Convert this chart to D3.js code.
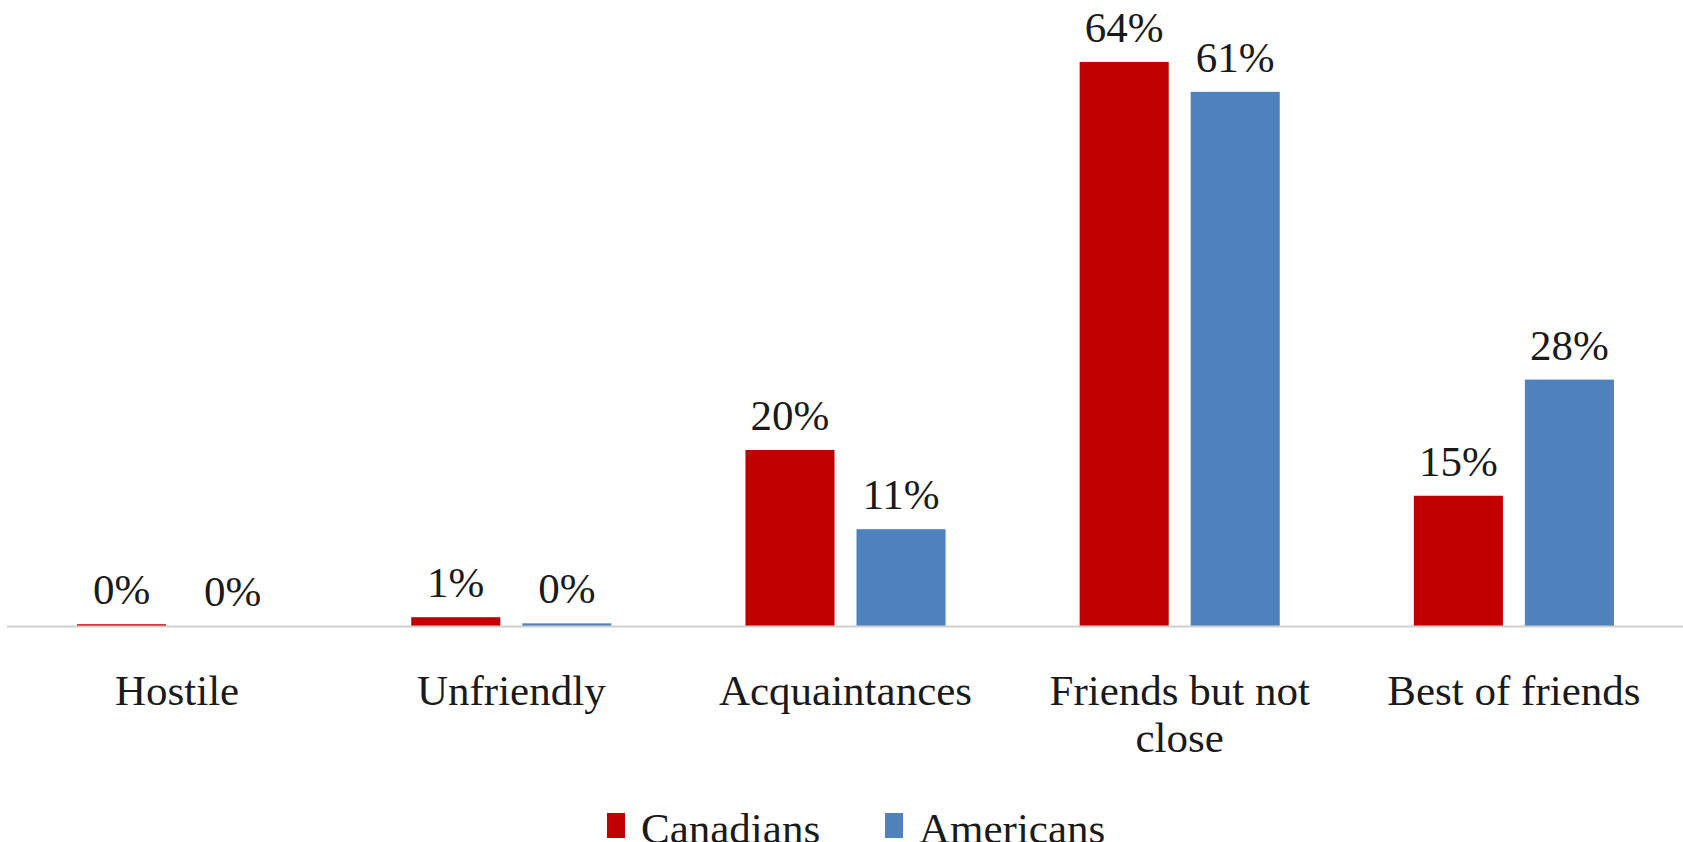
<!DOCTYPE html>
<html><head><meta charset="utf-8">
<script src="https://cdn.jsdelivr.net/npm/d3@7"></script>
<style>html,body{margin:0;padding:0;background:#fff;overflow:hidden}</style>
</head><body><svg id="c" width="1683" height="842"></svg>
<script>
const categories = ["Hostile", "Unfriendly", "Acquaintances", "Friends but not close", "Best of friends"];
const seriesNames = ["Canadians", "Americans"];
const canadians = [0.002, 0.01, 0.20, 0.641, 0.148];
const americans = [0.000, 0.003, 0.11, 0.607, 0.28];
const labelsCanadians = ["0%", "1%", "20%", "64%", "15%"];
const labelsAmericans = ["0%", "0%", "11%", "61%", "28%"];
const colors = ["#C00000", "#4F81BD"];

const FONT = "'Liberation Serif', serif";
const FS = 43;
const svg = d3.select("#c");
const baseY = 626;
const x0 = d3.scaleBand().domain(categories).range([10, 1681]).padding(0);
const x1 = d3.scaleBand().domain(seriesNames).range([0, x0.bandwidth()]).paddingInner(0.198).paddingOuter(0.604);
const y = d3.scaleLinear().domain([0, 0.7]).range([baseY, 10]);

const data = categories.map((c, i) => ({cat: c, vals: [
  {s: seriesNames[0], v: canadians[i], l: labelsCanadians[i]},
  {s: seriesNames[1], v: americans[i], l: labelsAmericans[i]}]}));

const g = svg.selectAll("g.grp").data(data).join("g").attr("class", "grp")
  .attr("transform", d => `translate(${x0(d.cat)},0)`);
g.selectAll("rect").data(d => d.vals).join("rect")
  .attr("x", d => x1(d.s)).attr("width", x1.bandwidth())
  .attr("y", d => y(d.v)).attr("height", d => baseY - y(d.v))
  .attr("fill", (d, i) => colors[i]);

// axis line
svg.append("line").attr("x1", 7).attr("x2", 1683).attr("y1", baseY + 0.5).attr("y2", baseY + 0.5)
  .attr("stroke", "#D0D0D0").attr("stroke-width", 2);

g.selectAll("text.val").data(d => d.vals).join("text").attr("class", "val")
  .attr("x", d => x1(d.s) + x1.bandwidth() / 2).attr("y", d => y(d.v) - 20)
  .attr("text-anchor", "middle").attr("font-family", FONT).attr("font-size", FS)
  .attr("fill", "#1a1a1a").text(d => d.l);

// category labels via axis
const xAxis = d3.axisBottom(x0).tickSize(0).tickPadding(0);
const ax = svg.append("g").attr("transform", `translate(0,${baseY})`).call(xAxis);
ax.select(".domain").remove();
ax.selectAll("text").attr("font-family", FONT).attr("font-size", FS).attr("fill", "#1a1a1a")
  .attr("dy", null).attr("y", 0)
  .each(function(d) {
    const t = d3.select(this); t.text(null);
    const words = d.split(" "); let lines = [], cur = [];
    const tmp = t.append("tspan");
    words.forEach(w => { const test = cur.concat(w).join(" "); tmp.text(test);
      if (tmp.node().getComputedTextLength() > 305 && cur.length) { lines.push(cur.join(" ")); cur = [w]; } else cur.push(w); });
    lines.push(cur.join(" ")); tmp.remove();
    lines.forEach((ln, i) => t.append("tspan").attr("x", 0).attr("y", 79 + i * 47).text(ln));
  });

// legend
const leg = svg.append("g");
const legX = [607, 885];
seriesNames.forEach((s, i) => {
  leg.append("rect").attr("x", legX[i]).attr("y", 813).attr("width", 18).attr("height", 25).attr("fill", colors[i]);
  leg.append("text").attr("x", legX[i] + 34).attr("y", 843).attr("font-family", FONT).attr("font-size", FS)
    .attr("fill", "#1a1a1a").text(s);
});
</script></body></html>
